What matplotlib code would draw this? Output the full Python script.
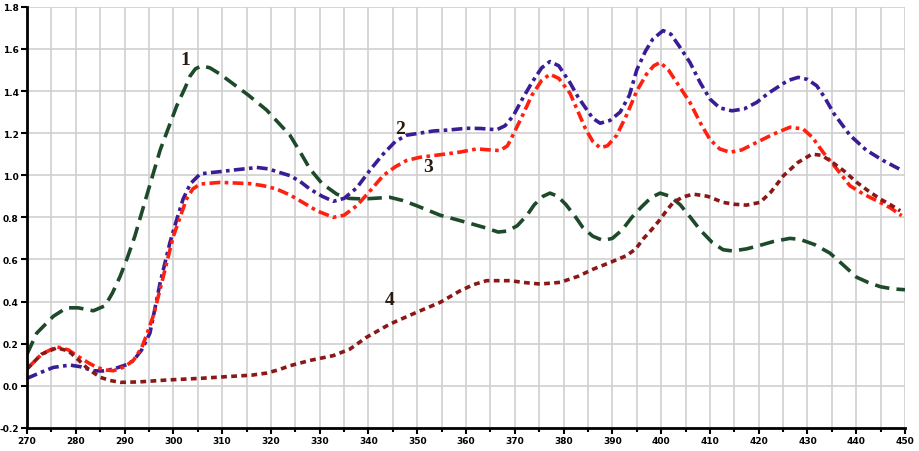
import matplotlib.pyplot as plt
import numpy as np

# curve 1 (dark green, dashed)
x1 = [270, 272, 275.4, 278.1, 280.5, 283.6, 286, 287.5, 289.1, 290.6, 292.1, 294.5, 297.3,
      300.7, 302.5, 303.4, 304.5, 305.8, 307.5, 309.6, 312.5, 315.4, 319.1, 321.5, 323.9,
      326, 328, 330.5, 333.5, 336, 338.9, 344.4, 347, 349.9, 354.7, 360.1, 364, 366.6,
      368.5, 370.5, 372.5, 374, 375.8, 377.2, 378.8, 380.5, 382.5, 384, 386, 388.1, 390,
      392, 394, 396, 398, 399.8, 401.8, 403.9, 406, 408, 410.5, 412.7, 414.7, 417.5, 420,
      423, 426.4, 428.5, 431.5, 434.6, 437.5, 440.1, 442.5, 445, 447.5, 450]
y1 = [0.15, 0.25, 0.33, 0.37, 0.37, 0.356, 0.38, 0.44, 0.52, 0.61, 0.71, 0.90, 1.12,
      1.33, 1.42, 1.47, 1.505, 1.52, 1.51, 1.48, 1.43, 1.38, 1.31, 1.25, 1.19,
      1.11, 1.03, 0.96, 0.91, 0.89, 0.887, 0.895, 0.88, 0.855, 0.81, 0.776, 0.75, 0.73,
      0.735, 0.76, 0.81, 0.86, 0.90, 0.915, 0.90, 0.86, 0.80, 0.75, 0.71, 0.69, 0.70,
      0.74, 0.80, 0.85, 0.895, 0.915, 0.90, 0.86, 0.80, 0.74, 0.68, 0.646, 0.64, 0.65, 0.665,
      0.685, 0.70, 0.695, 0.67, 0.63, 0.57, 0.515, 0.49, 0.47, 0.46, 0.456]

# curve 2 (blue-violet, dash-dot)
x2 = [270, 272.5, 275.4, 278.8, 281, 283.6, 285.5, 287.7, 290.4, 291.8, 293.5, 295.2, 297.3,
      299.3, 300.7, 302, 303.5, 305.5, 307.5, 309.6, 312.5, 315.7, 317.1, 319.5, 321.5,
      323.9, 326, 328, 330.5, 332.8, 335, 337.6, 340.5, 343, 345.5, 347.8, 350.5, 353.3,
      356.5, 360.1, 363, 366.3, 368, 369.7, 371.5, 373.5, 375.5, 377.2, 379, 381.3, 383,
      384.5, 386, 387.5, 389.5, 391.6, 393.5, 395, 396.8, 398.3, 400.4, 402, 403.8, 405.9,
      408, 410, 412, 414.5, 417, 419.6, 422, 424, 426, 428.1, 430, 431.9, 433.5, 435.5,
      438.7, 442, 445.5, 449.6]
y2 = [0.035, 0.06, 0.087, 0.098, 0.09, 0.071, 0.07, 0.079, 0.10, 0.119, 0.17, 0.25, 0.49,
      0.68, 0.79, 0.887, 0.96, 1.006, 1.012, 1.017, 1.025, 1.033, 1.037, 1.03, 1.015,
      0.998, 0.97, 0.934, 0.90, 0.876, 0.89, 0.94, 1.03, 1.10, 1.16, 1.19, 1.20, 1.21,
      1.215, 1.223, 1.222, 1.216, 1.235, 1.283, 1.36, 1.44, 1.51, 1.54, 1.52, 1.44, 1.37,
      1.32, 1.27, 1.247, 1.26, 1.30, 1.38, 1.50, 1.59, 1.647, 1.687, 1.67, 1.61, 1.536,
      1.44, 1.362, 1.32, 1.306, 1.315, 1.346, 1.39, 1.42, 1.45, 1.465, 1.455, 1.425, 1.37,
      1.29, 1.19, 1.12, 1.07, 1.02]

# curve 3 (red, dash-dot)
x3 = [270, 273, 276.1, 278.5, 280.2, 282.5, 284.3, 286, 287.7, 290, 291.8, 293.5, 294.5,
      296, 297.3, 300, 302.7, 304, 305.5, 309.6, 315.7, 318.5, 321.2, 324, 326.6, 329.5,
      332.8, 335, 337.6, 340.5, 343, 345.5, 347.8, 350.5, 353.3, 358.8, 362.2, 365, 367,
      368.5, 369.6, 371.5, 373.5, 375.5, 377.2, 379, 381.3, 383, 384.5, 386, 387.5, 389,
      390.9, 393, 395, 397, 398.5, 399.8, 401.5, 403.5, 405.9, 408, 410, 412, 414.1, 416.5,
      419.6, 423, 426.4, 429.1, 431, 433.2, 436, 438.7, 441.5, 444.2, 447, 449.3]
y3 = [0.08, 0.15, 0.185, 0.17, 0.143, 0.11, 0.087, 0.075, 0.071, 0.09, 0.12, 0.18, 0.24,
      0.34, 0.46, 0.71, 0.887, 0.935, 0.958, 0.966, 0.96, 0.95, 0.934, 0.905, 0.87, 0.83,
      0.80, 0.81, 0.855, 0.93, 0.998, 1.04, 1.07, 1.085, 1.093, 1.11, 1.125, 1.12, 1.117,
      1.14, 1.19, 1.28, 1.38, 1.45, 1.48, 1.46, 1.39, 1.30, 1.22, 1.16, 1.13, 1.14,
      1.19, 1.29, 1.40, 1.48, 1.52, 1.536, 1.50, 1.43, 1.346, 1.25, 1.17, 1.125, 1.109, 1.12,
      1.156, 1.195, 1.228, 1.22, 1.18, 1.109, 1.03, 0.95, 0.91, 0.879, 0.845, 0.808]

# curve 4 (dark red, short dashes)
x4 = [270, 273, 276.1, 278.5, 280.2, 282.5, 285, 287, 289.1, 293, 298.6, 305.5, 312.3,
      316, 319.1, 321.5, 323.9, 328, 332.8, 336.2, 339.6, 344.4, 349.9, 354.7, 358.8,
      361.5, 364.2, 369, 372, 375.2, 379.3, 383, 386.1, 389.5, 392.9, 394.8, 396.3, 398,
      399.8, 401.2, 402.5, 404.5, 406.6, 409.5, 412.7, 415, 417.5, 420.3, 422.5, 425.1,
      428, 430.9, 432.8, 434.6, 437.5, 440.1, 442.5, 444.9, 447, 449]
y4 = [0.08, 0.15, 0.18, 0.165, 0.13, 0.08, 0.04, 0.025, 0.016, 0.018, 0.027, 0.035, 0.045,
      0.05, 0.06, 0.075, 0.095, 0.12, 0.143, 0.174, 0.23, 0.293, 0.349, 0.396, 0.451,
      0.48, 0.499, 0.499, 0.49, 0.483, 0.491, 0.52, 0.554, 0.585, 0.618, 0.65, 0.697, 0.74,
      0.79, 0.835, 0.871, 0.897, 0.91, 0.90, 0.871, 0.862, 0.858, 0.871, 0.92, 0.998,
      1.06, 1.10, 1.095, 1.07, 1.02, 0.966, 0.925, 0.887, 0.86, 0.831]

labels = ["1", "2", "3", "4"]
label_pos = [(302.4, 1.55), (346.5, 1.22), (352.3, 1.04), (344.4, 0.41)]

fig = plt.figure(figsize=(9.19, 4.52), dpi=100)
ax = fig.add_axes([0.0294, 0.0513, 0.9554, 0.9314])

ax.plot(x1, y1, color="#1d4a2a", lw=2.6, dashes=(4, 2))
ax.plot(x2, y2, color="#3a1c94", lw=2.6, dashes=(3, 1.2, 1, 1.2))
ax.plot(x3, y3, color="#ff2010", lw=2.6, dashes=(3, 1.2, 1, 1.2))
ax.plot(x4, y4, color="#8a1818", lw=2.6, dashes=(1.6, 1.2))

for t, (lx, ly) in zip(labels, label_pos):
    ax.text(lx, ly, t, fontsize=14, fontweight="bold", family="Liberation Serif",
            color="#2a1a10", ha="center", va="center")

ax.set_xlim(270, 450)
ax.set_ylim(-0.2, 1.8)
ax.set_xticks(np.arange(270, 451, 10))
ax.set_xticks(np.arange(270, 451, 5), minor=True)
ax.set_yticks(np.arange(-0.2, 1.81, 0.2))
ax.set_yticklabels([f"{v:.1f}" for v in np.arange(-0.2, 1.81, 0.2)])
ax.grid(True, which="both", axis="x", color="#cfcfcf", lw=1.2)
ax.grid(True, which="major", axis="y", color="#cfcfcf", lw=1.2)
ax.set_axisbelow(True)

for s in ["top", "right"]:
    ax.spines[s].set_visible(False)
for s in ["left", "bottom"]:
    ax.spines[s].set_linewidth(2)
ax.tick_params(axis="both", which="major", labelsize=6.5, length=4, width=1.5, pad=2)
ax.tick_params(axis="both", which="minor", length=3, width=1.5)
for lab in ax.get_xticklabels() + ax.get_yticklabels():
    lab.set_fontweight("bold")

fig.savefig("out.png", dpi=100)
